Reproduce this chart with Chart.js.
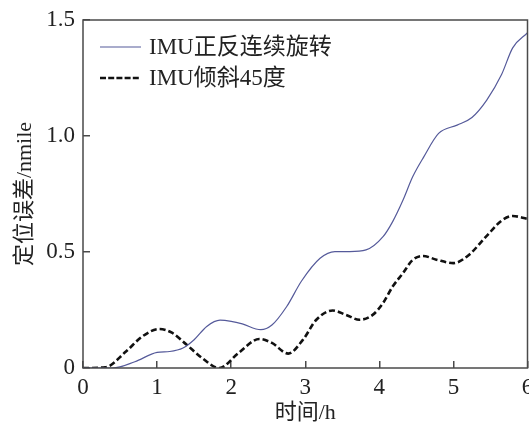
<!DOCTYPE html>
<html>
<head>
<meta charset="utf-8">
<script src="https://cdn.jsdelivr.net/npm/chart.js"></script>
<style>
  html, body { margin: 0; padding: 0; background: #fff; }
  #wrap { width: 529px; height: 426px; }
</style>
</head>
<body>
<div id="wrap"><canvas id="chart" width="529" height="426"></canvas></div>
<script>
// 时间/h 与定位误差/nmile
const rotT = [0, 0.4, 0.7, 1.0, 1.17, 1.35, 1.5, 1.67, 1.85, 2.0, 2.15, 2.4, 2.55, 2.75, 2.95, 3.2, 3.4, 3.6, 3.82, 4.05, 4.18, 4.32, 4.45, 4.6, 4.8, 5.05, 5.25, 5.45, 5.65, 5.8, 6.0]
const rotErr = [0, 0, 0.027, 0.067, 0.071, 0.086, 0.122, 0.179, 0.206, 0.201, 0.19, 0.165, 0.185, 0.265, 0.375, 0.473, 0.502, 0.502, 0.509, 0.566, 0.631, 0.724, 0.824, 0.91, 1.011, 1.047, 1.08, 1.155, 1.265, 1.38, 1.445]

const tiltT = [0, 0.3, 0.58, 0.8, 1.03, 1.2, 1.4, 1.6, 1.84, 2.1, 2.38, 2.55, 2.77, 2.97, 3.15, 3.37, 3.55, 3.73, 3.91, 4.05, 4.18, 4.32, 4.45, 4.59, 4.77, 5.0, 5.2, 5.44, 5.65, 5.8, 6.0]
const tiltErr = [0, 0.003, 0.071, 0.136, 0.168, 0.152, 0.1, 0.045, 0, 0.065, 0.125, 0.108, 0.062, 0.122, 0.208, 0.248, 0.229, 0.208, 0.229, 0.28, 0.351, 0.409, 0.466, 0.483, 0.467, 0.452, 0.485, 0.566, 0.635, 0.655, 0.643]

const seriesNames = ["IMU正反连续旋转", "IMU倾斜45度"]
const xTicks = ["0", "1", "2", "3", "4", "5", "6"]
const yTicks = ["0", "0.5", "1.0", "1.5"]

const FRAME = "#4a4a4a"
const SERIF = "'Liberation Serif', 'Times New Roman', 'Noto Sans CJK SC', serif"

const toPoints = (xs, ys) => xs.map((x, i) => ({x: x, y: ys[i]}))

// 边框 + 图内图例
const framePlugin = {
    id: "frame",
    afterDatasetsDraw(chart) {
        const {ctx, chartArea: a} = chart
        ctx.save()
        ctx.strokeStyle = FRAME
        ctx.lineWidth = 1.5
        ctx.strokeRect(a.left, a.top, a.right - a.left, a.bottom - a.top)

        ctx.font = "23px " + SERIF
        ctx.textBaseline = "middle"
        ctx.fillStyle = "#222"
        const rows = [47, 78]
        chart.data.datasets.forEach((ds, i) => {
            const y = rows[i]
            ctx.beginPath()
            ctx.strokeStyle = ds.borderColor
            ctx.lineWidth = ds.borderWidth
            ctx.setLineDash(ds.borderDash ? [6, 2.2] : [])
            ctx.moveTo(100, y)
            ctx.lineTo(141, y)
            ctx.stroke()
            ctx.setLineDash([])
            ctx.fillText(ds.label, 149, y + 1)
        })
        ctx.restore()
    }
}

new Chart(document.getElementById("chart").getContext("2d"), {
    type: "line",
    data: {
        datasets: [
            {
                label: seriesNames[0],
                data: toPoints(rotT, rotErr),
                borderColor: "#555a9a",
                borderWidth: 1.2,
                pointRadius: 0,
                fill: false,
                cubicInterpolationMode: "monotone"
            },
            {
                label: seriesNames[1],
                data: toPoints(tiltT, tiltErr),
                borderColor: "#111",
                borderWidth: 2.6,
                borderDash: [6, 3],
                pointRadius: 0,
                fill: false,
                cubicInterpolationMode: "monotone"
            }
        ]
    },
    options: {
        responsive: false,
        animation: false,
        layout: {padding: {top: 20, right: 1.5, left: 0, bottom: 0}},
        plugins: {
            legend: {display: false},
            tooltip: {enabled: false}
        },
        scales: {
            x: {
                type: "linear",
                min: 0,
                max: 6,
                afterFit: s => {
                    s.height = 58
                    s.paddingLeft = 0
                    s.paddingRight = 0
                },
                border: {display: false},
                grid: {drawOnChartArea: false, color: FRAME, lineWidth: 1.5, tickLength: -7},
                ticks: {
                    stepSize: 1,
                    padding: 13,
                    color: "#222",
                    font: {family: SERIF, size: 23},
                    maxRotation: 0,
                    callback: (v) => xTicks[v]
                },
                title: {
                    display: true,
                    text: "时间/h",
                    color: "#222",
                    font: {family: SERIF, size: 22},
                    padding: {top: 0, bottom: 0}
                }
            },
            y: {
                min: 0,
                max: 1.5,
                afterFit: s => {
                    s.width = 83
                    s.paddingTop = 0
                    s.paddingBottom = 0
                },
                border: {display: false},
                grid: {drawOnChartArea: false, color: FRAME, lineWidth: 1.5, tickLength: -7},
                ticks: {
                    stepSize: 0.5,
                    padding: 15,
                    color: "#222",
                    font: {family: SERIF, size: 23},
                    callback: (v) => yTicks[Math.round(v * 2)]
                },
                title: {
                    display: true,
                    text: "定位误差/nmile",
                    color: "#222",
                    font: {family: SERIF, size: 22},
                    padding: {top: 12, bottom: 0}
                }
            }
        }
    },
    plugins: [framePlugin]
})
</script>
</body>
</html>
